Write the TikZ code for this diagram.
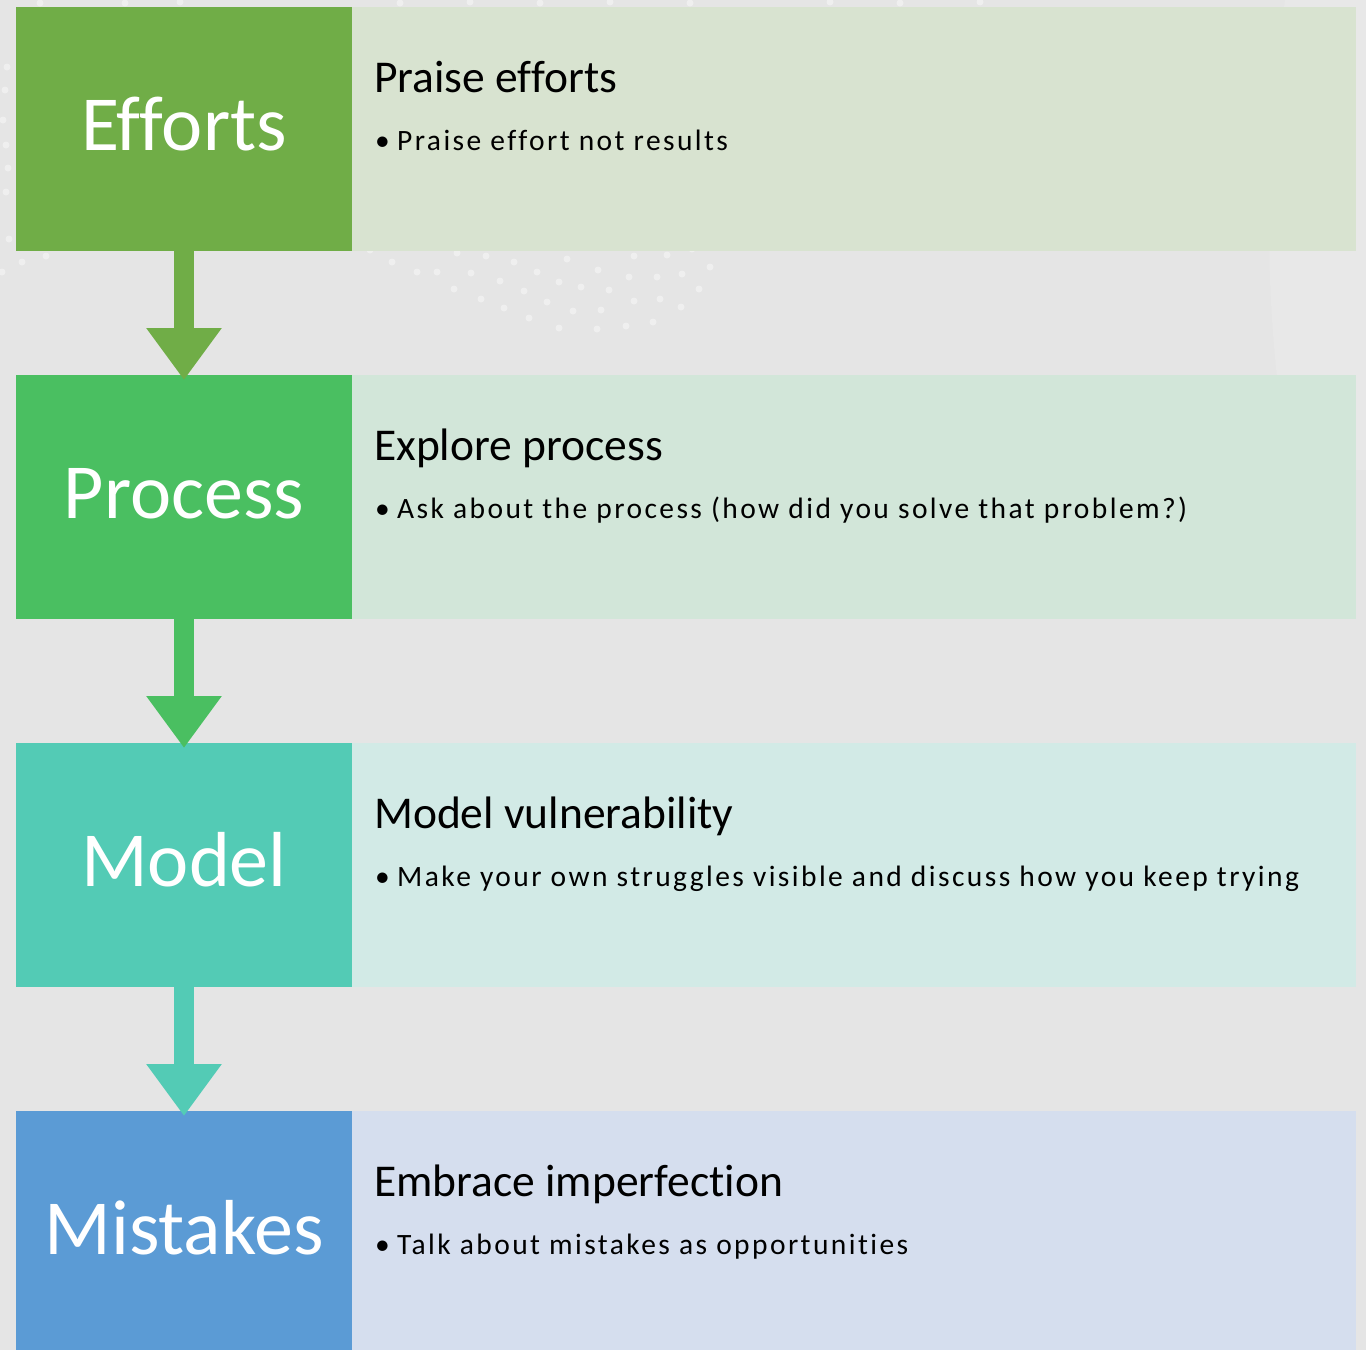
\documentclass[tikz,border=0pt]{standalone}
\usepackage{fontspec}
\setmainfont[Ligatures={NoCommon}]{Carlito}
\newfontfamily\bodyfont[LetterSpace=8.2,Ligatures={NoCommon}]{Carlito}
\usetikzlibrary{arrows.meta,calc}

\definecolor{bgcol}{HTML}{E5E5E5}
\definecolor{bglight}{HTML}{E8E8E8}
\definecolor{dotcol}{HTML}{EFEFEF}
\definecolor{effcol}{HTML}{70AD47}
\definecolor{proccol}{HTML}{4ABF61}
\definecolor{modcol}{HTML}{53CBB5}
\definecolor{miscol}{HTML}{5B9BD5}
\definecolor{effpanel}{HTML}{D8E3D0}
\definecolor{procpanel}{HTML}{D2E6D9}
\definecolor{modpanel}{HTML}{D2EAE6}
\definecolor{mispanel}{HTML}{D5DEEE}

\begin{document}
\begin{tikzpicture}[x=1pt,y=-1pt,
  tag/.style={anchor=north west, minimum width=336pt, minimum height=244pt,
    inner sep=0pt, outer sep=0pt, draw=none},
  panel/.style={anchor=north west, minimum width=1004pt, minimum height=244pt,
    inner sep=0pt, outer sep=0pt, draw=none},
  bigword/.style={anchor=base, text=white, inner sep=0pt,
    font=\fontsize{78}{82}\selectfont},
  head/.style={anchor=base west, inner sep=0pt,
    font=\fontsize{45.5}{50}\selectfont},
  point/.style={anchor=base west, inner sep=0pt,
    font=\bodyfont\fontsize{29.5}{33}\selectfont},
  flow/.style={line width=20pt, -{Triangle[width=72pt,length=52pt]}},
  dot/.style={fill=dotcol}
]
% backdrop
\fill[bgcol] (0,0) rectangle (1366,1350);
\useasboundingbox (0,0) rectangle (1366,1350);
\fill[bglight] (1285,0) .. controls (1262,170) and (1264,320) .. (1290,470)
  -- (1366,470) -- (1366,0) -- cycle;

% decorative dots
\foreach \px/\py in {370/250,392/262,417/272,437/272,457/253,471/273,486/256,
  500/281,514/262,454/289,481/299,504/308,524/291,537/272,529/318,547/302,
  559/282,567/259,559/328,573/311,581/287,598/270,601/310,597/329,609/290,
  629/277,634/256,634/301,626/326,653/322,657/277,660/299,667/255,681/307,
  682/274,699/289,710/267,692/249,
  7/67,5/90,3/120,6/145,8/168,6/192,9/239,22/262,46/256,2/272,
  40/3,125/3,180/2,400/3,470/2,540/3,610/2,690/3,830/2,900/3,980/2}
  \fill[dot] (\px,\py) circle[radius=3.5pt];

% row 1
\node[tag, fill=effcol] (efforts) at (16,7) {};
\node[panel, fill=effpanel] (effortsp) at (352,7) {};
\node[bigword] (efforts-t) at (184,150) {Efforts};
\node[head] (effortsh) at (374,92) {Praise efforts};
\node[point] (effortsb) at (375,150) {\makebox[22pt][l]{•}Praise effort not results};

% row 2
\node[tag, fill=proccol] (process) at (16,375) {};
\node[panel, fill=procpanel] (processp) at (352,375) {};
\node[bigword] (process-t) at (184,518) {Process};
\node[head] (processh) at (374,460) {Explore process};
\node[point] (processb) at (375,518) {\makebox[22pt][l]{•}Ask about the process (how did you solve that problem?)};

% row 3
\node[tag, fill=modcol] (model) at (16,743) {};
\node[panel, fill=modpanel] (modelp) at (352,743) {};
\node[bigword] (model-t) at (184,886) {Model};
\node[head] (modelh) at (374,828) {Model vulnerability};
\node[point] (modelb) at (375,886) {\makebox[22pt][l]{•}Make your own struggles visible and discuss how you keep trying};

% row 4
\node[tag, fill=miscol, minimum height=239pt] (mistakes) at (16,1111) {};
\node[panel, fill=mispanel, minimum height=239pt] (mistakesp) at (352,1111) {};
\node[bigword] (mistakes-t) at (184,1254) {Mistakes};
\node[head] (mistakesh) at (374,1196) {Embrace imperfection};
\node[point] (mistakesb) at (375,1254) {\makebox[22pt][l]{•}Talk about mistakes as opportunities};

% connectors
\draw[flow, effcol] (efforts.south) -- ($(process.north)+(0,5)$);
\draw[flow, proccol] (process.south) -- ($(model.north)+(0,5)$);
\draw[flow, modcol] (model.south) -- ($(mistakes.north)+(0,5)$);
\end{tikzpicture}
\end{document}
